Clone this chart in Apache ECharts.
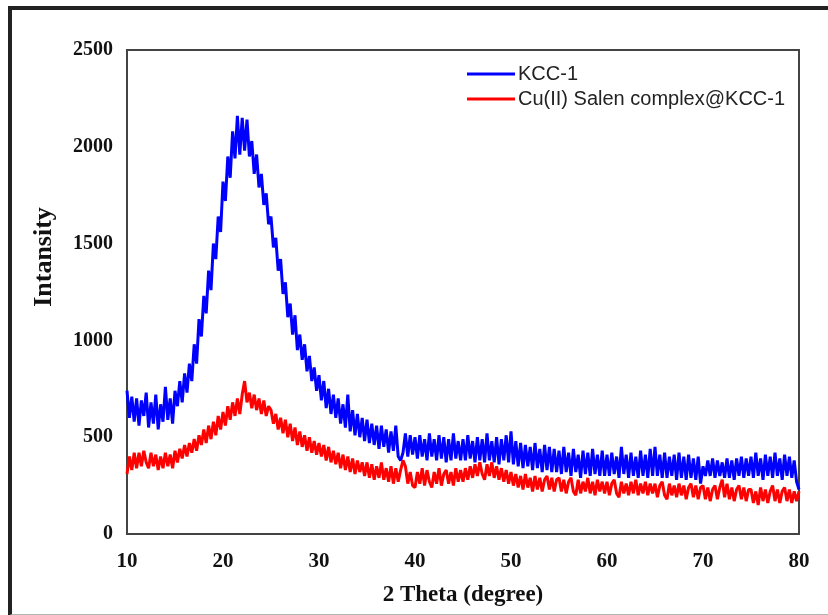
<!DOCTYPE html>
<html>
<head>
<meta charset="utf-8">
<script src="https://cdn.jsdelivr.net/npm/echarts@6/dist/echarts.min.js"></script>
<style>
  html, body { margin: 0; padding: 0; background: #fff; }
  #wrap { position: relative; width: 828px; height: 615px; overflow: hidden; }
  #chart { position: absolute; left: 0; top: 0; width: 828px; height: 615px; }
  /* outer picture frame */
  #frame {
    position: absolute; left: 8px; top: 6px; width: 840px; height: 604px;
    border-left: 4px solid #222; border-top: 4px solid #222; border-bottom: 2px solid #b5b5b5;
    pointer-events: none;
  }
</style>
</head>
<body>
<div id="wrap">
  <div id="chart"></div>
  <div id="frame"></div>
</div>
<script>
// 2θ grid: first reading at 10°, one reading every 0.25°
const thetaStart = 10
const thetaStep = 0.25

// KCC-1 intensities (rows of 5°)
const kccValues = [
  740, 600, 710, 580, 700, 560, 690, 610, 730, 550, 680, 570, 720, 540, 670, 580, 760, 590, 700, 570,
  740, 660, 790, 680, 830, 730, 880, 790, 980, 880, 1110, 1020, 1230, 1140, 1360, 1260, 1500, 1420, 1640, 1560,
  1820, 1720, 1950, 1840, 2080, 1940, 2160, 1960, 2150, 1980, 2140, 1950, 2030, 1860, 1960, 1790, 1860, 1700, 1760, 1600,
  1640, 1480, 1530, 1360, 1420, 1240, 1300, 1120, 1190, 1030, 1130, 950, 1030, 900, 980, 840, 920, 790, 860, 740,
  820, 690, 790, 650, 750, 620, 720, 600, 700, 570, 670, 550, 720, 530, 640, 510, 620, 500, 600, 480,
  590, 470, 570, 460, 560, 440, 560, 450, 540, 420, 530, 430, 560, 400, 380, 420, 520, 400, 510, 410,
  500, 390, 510, 400, 490, 380, 520, 400, 490, 380, 510, 390, 500, 370, 490, 380, 520, 390, 480, 380,
  490, 380, 510, 390, 480, 370, 500, 380, 490, 370, 520, 380, 480, 370, 500, 360, 490, 380, 510, 370,
  530, 360, 480, 350, 470, 340, 460, 350, 450, 330, 470, 340, 440, 320, 460, 330, 450, 320, 440, 320,
  430, 310, 450, 320, 420, 300, 440, 320, 410, 290, 430, 310, 420, 300, 440, 310, 410, 300, 430, 300,
  410, 300, 420, 310, 400, 290, 450, 310, 410, 290, 420, 300, 400, 290, 430, 300, 410, 290, 440, 300,
  450, 300, 410, 290, 420, 290, 400, 300, 410, 280, 420, 290, 400, 280, 410, 290, 390, 280, 400, 260,
  350, 300, 380, 300, 390, 290, 380, 300, 370, 290, 390, 290, 380, 280, 390, 300, 400, 290, 390, 300,
  400, 290, 420, 300, 390, 280, 410, 300, 400, 290, 420, 300, 390, 280, 410, 300, 400, 290, 380, 270,
  230
]

// Cu(II) Salen complex@KCC-1 intensities
const cuValues = [
  310, 400, 330, 420, 340, 420, 350, 430, 370, 340, 420, 350, 410, 330, 400, 340, 420, 350, 410, 340,
  430, 370, 440, 390, 460, 400, 470, 420, 490, 430, 510, 460, 540, 470, 560, 490, 580, 510, 610, 540,
  630, 560, 660, 590, 680, 610, 700, 620, 720, 790, 680, 730, 650, 720, 640, 700, 620, 690, 610, 660,
  640, 570, 620, 540, 600, 520, 590, 500, 570, 480, 550, 460, 530, 450, 510, 430, 500, 420, 480, 410,
  470, 400, 460, 380, 450, 370, 430, 360, 420, 340, 410, 330, 400, 320, 390, 310, 380, 320, 370, 300,
  370, 290, 360, 280, 350, 290, 370, 280, 340, 270, 350, 260, 340, 270, 330, 380, 350, 260, 320, 250,
  240, 320, 260, 340, 250, 330, 270, 240, 320, 260, 340, 250, 310, 330, 260, 320, 250, 340, 270, 330,
  270, 340, 280, 350, 290, 360, 300, 370, 310, 280, 360, 300, 370, 290, 350, 280, 340, 270, 330, 260,
  320, 250, 310, 240, 300, 230, 310, 240, 290, 220, 300, 230, 290, 220, 280, 300, 230, 290, 220, 280,
  290, 220, 280, 210, 270, 290, 220, 200, 280, 210, 270, 220, 290, 210, 270, 200, 280, 220, 270, 210,
  270, 200, 260, 280, 210, 190, 270, 210, 260, 200, 270, 210, 280, 200, 260, 210, 270, 200, 260, 210,
  260, 190, 250, 270, 200, 180, 260, 200, 250, 190, 260, 200, 250, 180, 240, 260, 190, 250, 180, 240,
  250, 180, 240, 170, 230, 250, 180, 240, 280, 190, 260, 180, 240, 170, 230, 250, 180, 240, 170, 230,
  230, 160, 220, 150, 240, 170, 230, 160, 220, 250, 170, 230, 160, 220, 240, 170, 230, 160, 220, 170,
  220
]

const seriesNames = ['KCC-1', 'Cu(II) Salen complex@KCC-1']

const toPairs = vals => vals.map((v, i) => [thetaStart + i * thetaStep, v])

const chart = echarts.init(document.getElementById('chart'))

const serif = '"Liberation Serif", "Times New Roman", serif'
const sans = '"Liberation Sans", Arial, sans-serif'

chart.setOption({
  animation: false,
  backgroundColor: 'transparent',
  grid: {
    left: 127, right: 29, top: 50, bottom: 81,
    show: true, borderColor: '#444', borderWidth: 2
  },
  legend: {
    data: seriesNames,
    orient: 'vertical',
    left: 462, top: 59,
    icon: 'rect',
    itemWidth: 48, itemHeight: 3,
    itemGap: 5,
    textStyle: { fontFamily: sans, fontSize: 20, color: '#222', padding: [0, 0, 0, -2] }
  },
  xAxis: {
    type: 'value',
    min: 10, max: 80, interval: 10,
    name: '2 Theta (degree)',
    nameLocation: 'middle',
    nameGap: 50,
    nameTextStyle: { fontFamily: serif, fontSize: 23, fontWeight: 'bold', color: '#111' },
    axisLine: { lineStyle: { color: '#444', width: 2 } },
    axisTick: { show: false },
    splitLine: { show: false },
    axisLabel: { fontFamily: serif, fontSize: 21, fontWeight: 'bold', color: '#111', margin: 17 }
  },
  yAxis: {
    type: 'value',
    min: 0, max: 2500, interval: 500,
    name: 'Intansity',
    nameLocation: 'middle',
    nameGap: 70,
    nameTextStyle: { fontFamily: serif, fontSize: 26, fontWeight: 'bold', color: '#111', padding: [0, 0, 0, 70] },
    axisLine: { show: true, lineStyle: { color: '#444', width: 2 } },
    axisTick: { show: false },
    splitLine: { show: false },
    axisLabel: {
      fontFamily: serif, fontSize: 20, fontWeight: 'bold', color: '#111', margin: 14,
      formatter: v => String(v)
    }
  },
  series: [
    {
      name: seriesNames[0],
      type: 'line',
      data: toPairs(kccValues),
      showSymbol: false,
      sampling: 'none',
      lineStyle: { color: '#0000ff', width: 3 },
      itemStyle: { color: '#0000ff' },
      z: 2
    },
    {
      name: seriesNames[1],
      type: 'line',
      data: toPairs(cuValues),
      showSymbol: false,
      sampling: 'none',
      lineStyle: { color: '#ff0000', width: 3 },
      itemStyle: { color: '#ff0000' },
      z: 3
    }
  ]
})
</script>
</body>
</html>
